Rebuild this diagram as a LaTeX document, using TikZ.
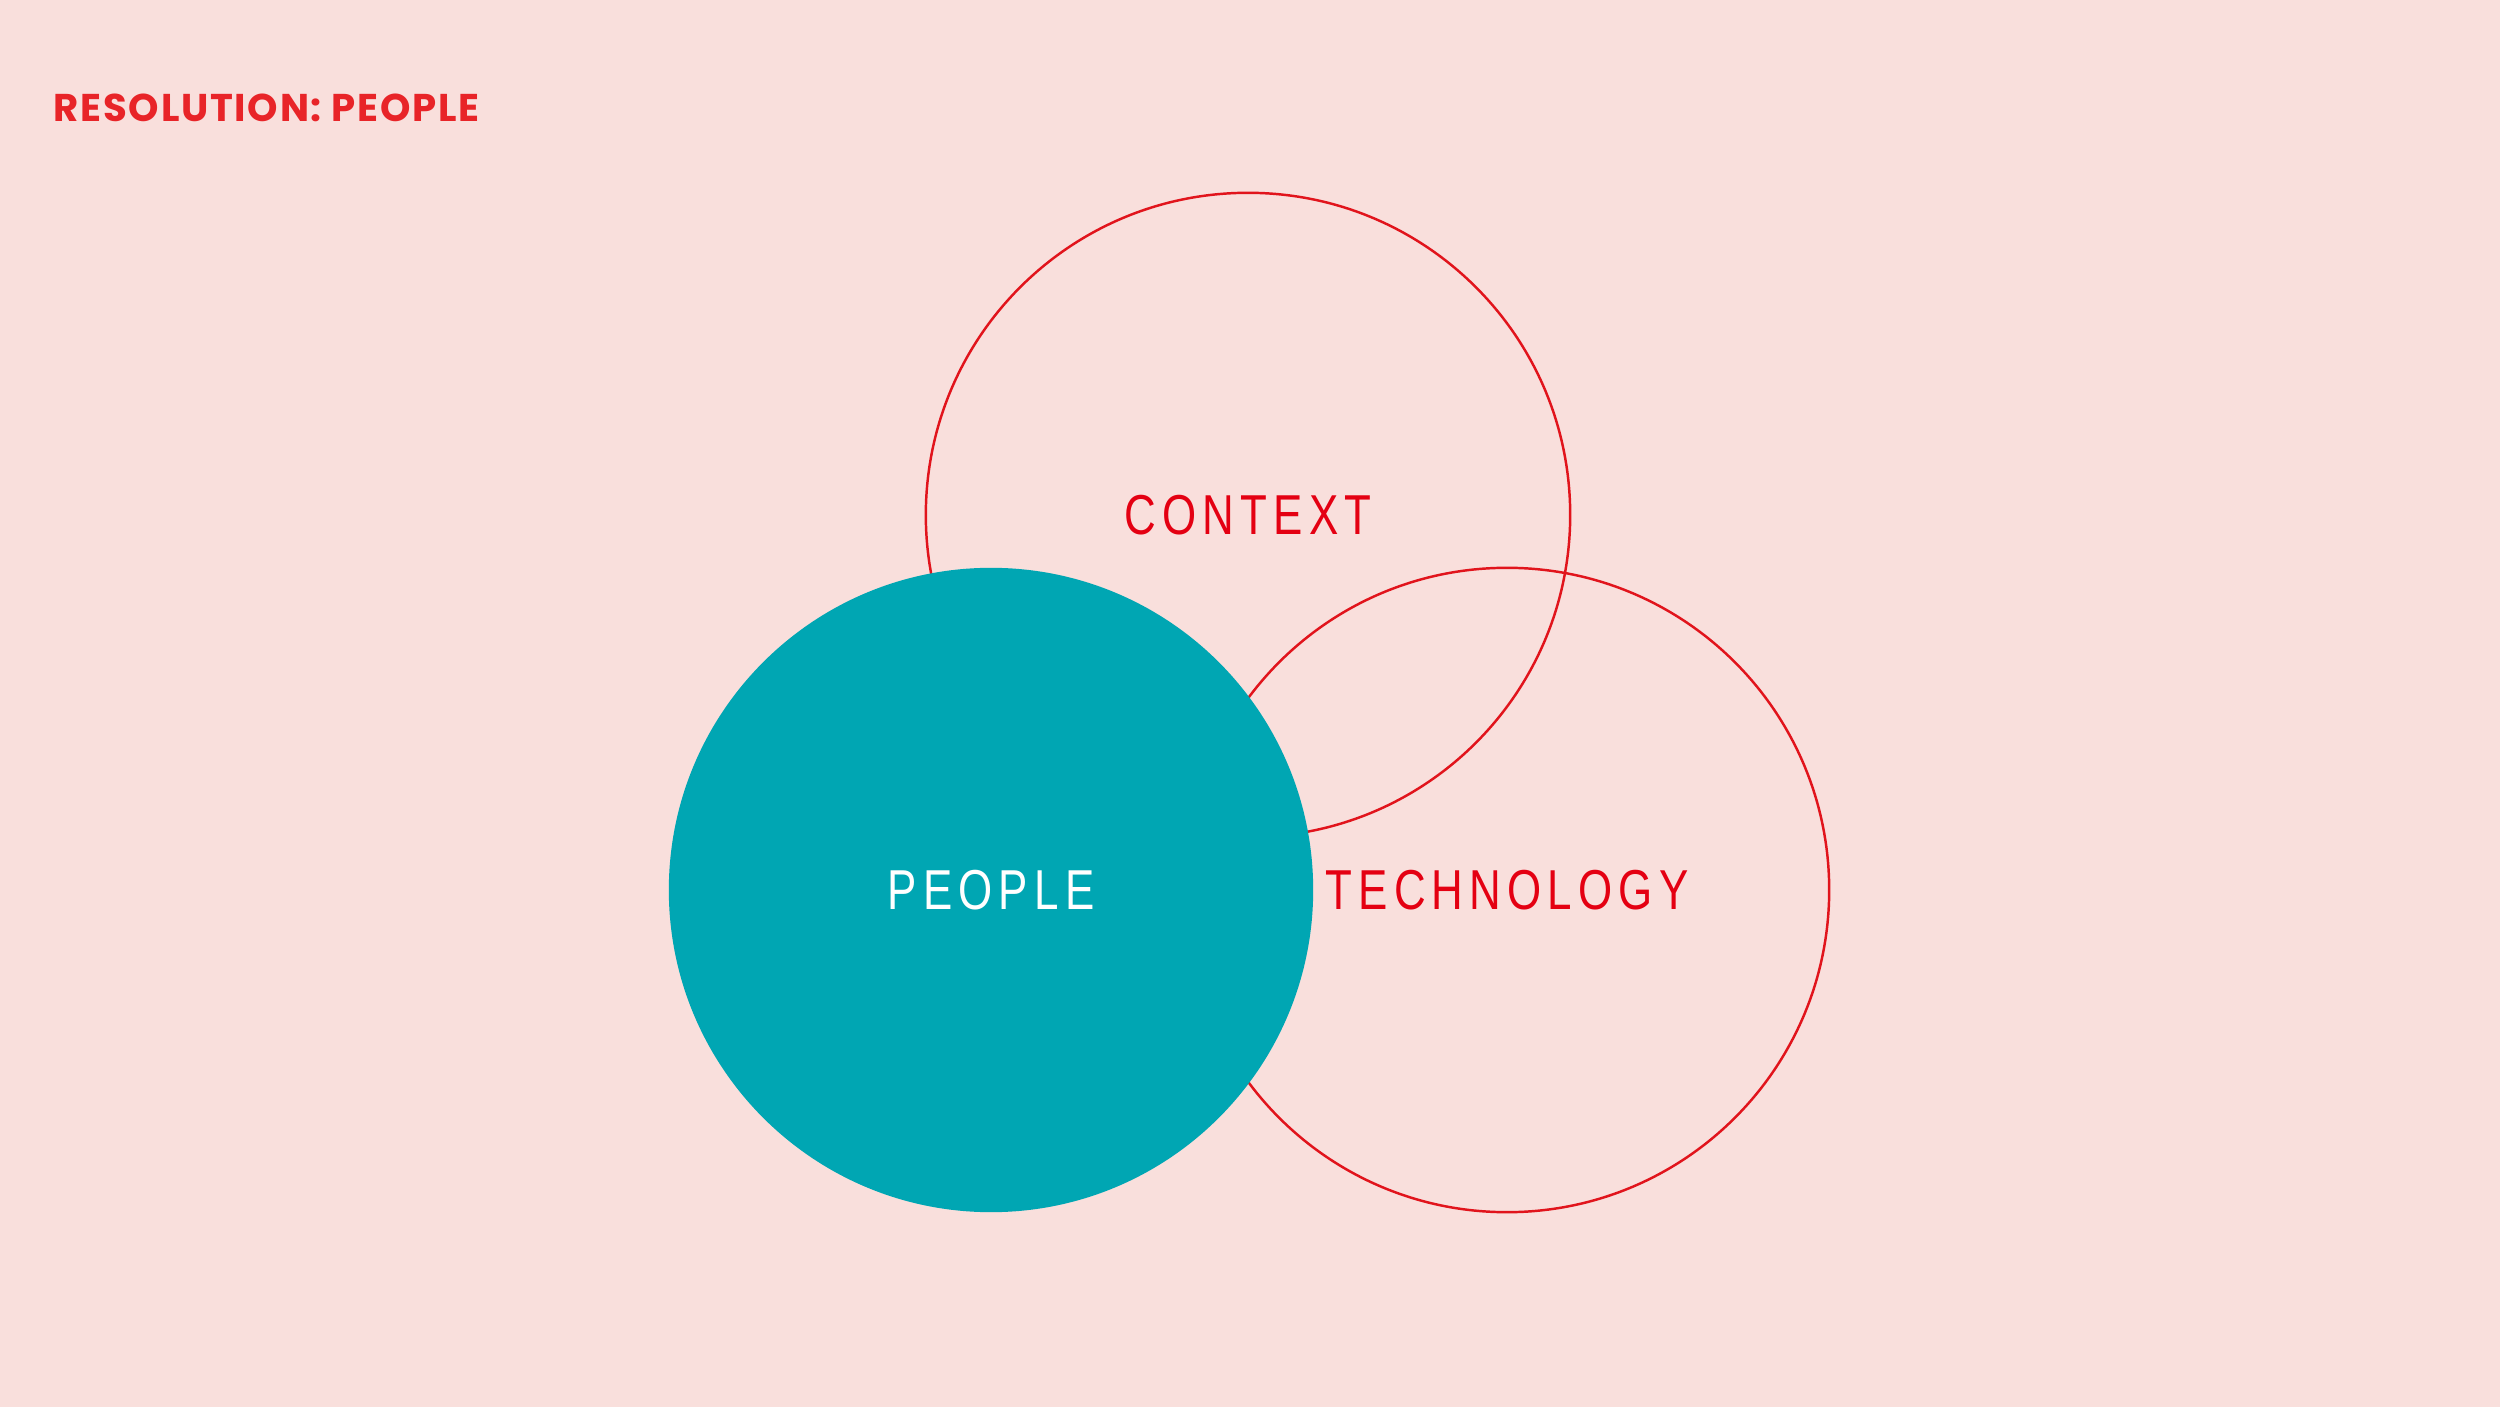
\documentclass[tikz,border=0pt]{standalone}
\usepackage{fontspec}
\setmainfont{Liberation Sans}
\newfontfamily\labelfont{Liberation Sans}[FakeStretch=0.78, LetterSpace=11]
\newfontfamily\titlefont{Poppins}[LetterSpace=4.5]

\definecolor{bgpink}{RGB}{249,223,220}
\definecolor{ringred}{RGB}{225,20,28}
\definecolor{labelred}{RGB}{228,0,18}
\definecolor{titlered}{RGB}{232,36,40}
\definecolor{peopleteal}{RGB}{0,166,179}

\begin{document}
\begin{tikzpicture}[x=0.01cm, y=-0.01cm,
    ring/.style={circle, draw=ringred, line width=0.7pt, minimum size=6.44cm, inner sep=0pt,
                 text=labelred, font=\labelfont\fontsize{16}{19}\selectfont},
    disc/.style={circle, fill=peopleteal, minimum size=6.44cm, inner sep=0pt,
                 text=white, font=\labelfont\fontsize{16}{19}\selectfont}]
    % Define background
    \fill[bgpink] (0,0) rectangle (2500,1407);
    \useasboundingbox (0,0) rectangle (2500,1407);

    % Title
    \node[anchor=west, inner sep=0pt, text=titlered, font=\titlefont\bfseries\fontsize{11}{13}\selectfont] (title) at (53,108) {RESOLUTION: PEOPLE};

    % Define circles
    \node[ring] (context) at (1248,515) {CONTEXT};
    \node[ring] (tech) at (1507,890) {TECHNOLOGY};
    \node[disc] (people) at (991,890) {PEOPLE};

\end{tikzpicture}
\end{document}
